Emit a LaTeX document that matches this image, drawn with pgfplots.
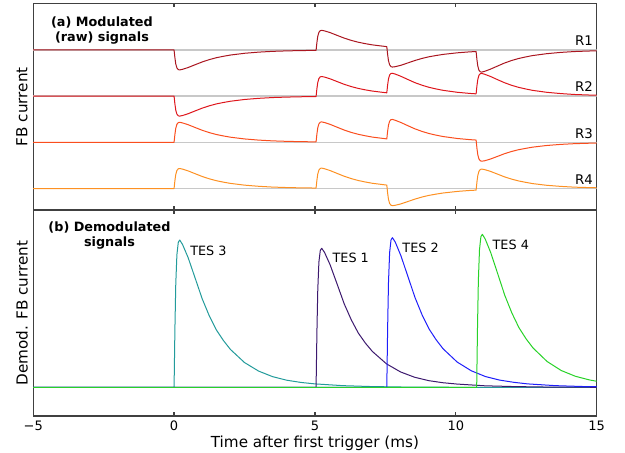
\documentclass[border=0pt]{standalone}
\usepackage{fontspec}
\setmainfont{DejaVu Sans}
\usepackage{pgfplots}
\pgfplotsset{compat=1.18}
\definecolor{cR1}{RGB}{170,22,32}
\definecolor{cR2}{RGB}{222,22,28}
\definecolor{cR3}{RGB}{250,78,30}
\definecolor{cR4}{RGB}{253,145,35}
\definecolor{cT3}{RGB}{35,155,155}
\definecolor{cT1}{RGB}{60,25,110}
\definecolor{cT2}{RGB}{30,30,250}
\definecolor{cT4}{RGB}{40,210,40}
\definecolor{basegray}{RGB}{200,200,200}
\definecolor{axgray}{RGB}{64,64,64}
\pgfplotsset{
  myax/.style={scale only axis, width=563.5bp, xmin=-5, xmax=15,
    xtick={-5,0,5,10,15}, ytick=\empty,
    axis line style={draw=axgray, line width=1.2bp},
    major tick style={draw=axgray, line width=1.2bp},
    major tick length=4bp,
    tick label style={font=\fontsize{13bp}{16bp}\selectfont},
    ylabel style={at={(axis description cs:-0.0199,0.5)}, anchor=center, font=\fontsize{15.2bp}{18bp}\selectfont},
  },
  tr/.style={no markers, line width=1.0bp, line join=round},
}
\begin{document}
\begin{tikzpicture}
\path[use as bounding box] (0,0) rectangle (625bp,453bp);
\begin{axis}[myax, at={(33.2bp,243bp)}, anchor=south west, height=206.7bp,
  ymin=-0.465, ymax=4.009, xticklabels={}, ylabel={FB current}]
\addplot[basegray, line width=1.3bp] coordinates {(-5,3) (15,3)};
\addplot[basegray, line width=1.3bp] coordinates {(-5,2) (15,2)};
\addplot[basegray, line width=1.3bp] coordinates {(-5,1) (15,1)};
\addplot[basegray, line width=1.3bp] coordinates {(-5,0) (15,0)};
\addplot[tr, cR1] coordinates {(-5,3) (0,3) (0.03,2.827) (0.06,2.697) (0.10,2.610) (0.15,2.573) (0.20,2.567) (0.30,2.580) (0.50,2.619) (0.75,2.680) (1.00,2.740) (1.25,2.790) (1.50,2.831) (1.75,2.862) (2.00,2.889) (2.50,2.927) (3.00,2.952) (3.50,2.969) (4.00,2.979) (4.50,2.986) (5.04,2.990) (5.07,3.164) (5.10,3.294) (5.14,3.381) (5.19,3.418) (5.24,3.424) (5.34,3.412) (5.54,3.374) (5.79,3.314) (6.04,3.255) (6.29,3.206) (6.54,3.166) (6.79,3.135) (7.04,3.109) (7.29,3.090) (7.55,3.071) (7.58,2.898) (7.61,2.766) (7.65,2.677) (7.70,2.638) (7.75,2.629) (7.85,2.637) (8.05,2.667) (8.30,2.719) (8.55,2.771) (8.80,2.816) (9.05,2.852) (9.30,2.879) (9.55,2.903) (9.80,2.920) (10.05,2.937) (10.30,2.949) (10.50,2.958) (10.72,2.965) (10.75,2.785) (10.78,2.651) (10.82,2.561) (10.87,2.525) (10.92,2.520) (11.02,2.536) (11.22,2.581) (11.47,2.648) (11.72,2.714) (11.97,2.769) (12.22,2.813) (12.47,2.847) (12.72,2.877) (13.22,2.918) (13.72,2.946) (14.22,2.965) (14.72,2.976) (15,2.980)};
\addplot[tr, cR2] coordinates {(-5,2) (0,2) (0.03,1.827) (0.06,1.697) (0.10,1.610) (0.15,1.573) (0.20,1.567) (0.30,1.580) (0.50,1.619) (0.75,1.680) (1.00,1.740) (1.25,1.790) (1.50,1.831) (1.75,1.862) (2.00,1.889) (2.50,1.927) (3.00,1.952) (3.50,1.969) (4.00,1.979) (4.50,1.986) (5.04,1.990) (5.07,2.164) (5.10,2.294) (5.14,2.381) (5.19,2.418) (5.24,2.424) (5.34,2.412) (5.54,2.374) (5.79,2.314) (6.04,2.255) (6.29,2.206) (6.54,2.166) (6.79,2.135) (7.04,2.109) (7.29,2.090) (7.55,2.071) (7.58,2.244) (7.61,2.372) (7.65,2.457) (7.70,2.492) (7.75,2.495) (7.85,2.477) (8.05,2.429) (8.30,2.359) (8.55,2.291) (8.80,2.236) (9.05,2.190) (9.30,2.155) (9.55,2.125) (9.80,2.104) (10.05,2.083) (10.30,2.069) (10.50,2.058) (10.72,2.049) (10.75,2.227) (10.78,2.361) (10.82,2.451) (10.87,2.487) (10.92,2.491) (11.02,2.474) (11.22,2.428) (11.47,2.359) (11.72,2.292) (11.97,2.236) (12.22,2.191) (12.47,2.156) (12.72,2.125) (13.22,2.083) (13.72,2.055) (14.22,2.035) (14.72,2.024) (15,2.020)};
\addplot[tr, cR3] coordinates {(-5,1) (0,1) (0.03,1.173) (0.06,1.303) (0.10,1.390) (0.15,1.427) (0.20,1.433) (0.30,1.420) (0.50,1.381) (0.75,1.320) (1.00,1.260) (1.25,1.210) (1.50,1.169) (1.75,1.138) (2.00,1.111) (2.50,1.073) (3.00,1.048) (3.50,1.031) (4.00,1.021) (4.50,1.014) (5.04,1.010) (5.07,1.183) (5.10,1.313) (5.14,1.399) (5.19,1.436) (5.24,1.442) (5.34,1.428) (5.54,1.388) (5.79,1.326) (6.04,1.265) (6.29,1.214) (6.54,1.173) (6.79,1.141) (7.04,1.113) (7.29,1.094) (7.55,1.074) (7.58,1.244) (7.61,1.372) (7.65,1.457) (7.70,1.492) (7.75,1.495) (7.85,1.477) (8.05,1.429) (8.30,1.359) (8.55,1.291) (8.80,1.236) (9.05,1.190) (9.30,1.155) (9.55,1.125) (9.80,1.104) (10.05,1.083) (10.30,1.069) (10.50,1.058) (10.72,1.049) (10.75,0.867) (10.78,0.731) (10.82,0.639) (10.87,0.599) (10.92,0.591) (11.02,0.600) (11.22,0.636) (11.47,0.693) (11.72,0.752) (11.97,0.800) (12.22,0.839) (12.47,0.868) (12.72,0.895) (13.22,0.931) (13.72,0.955) (14.22,0.971) (14.72,0.980) (15,0.984)};
\addplot[tr, cR4] coordinates {(-5,0) (0,0) (0.03,0.173) (0.06,0.303) (0.10,0.390) (0.15,0.427) (0.20,0.433) (0.30,0.420) (0.50,0.381) (0.75,0.320) (1.00,0.260) (1.25,0.210) (1.50,0.169) (1.75,0.138) (2.00,0.111) (2.50,0.073) (3.00,0.048) (3.50,0.031) (4.00,0.021) (4.50,0.014) (5.04,0.010) (5.07,0.183) (5.10,0.313) (5.14,0.399) (5.19,0.436) (5.24,0.442) (5.34,0.428) (5.54,0.388) (5.79,0.326) (6.04,0.265) (6.29,0.214) (6.54,0.173) (6.79,0.141) (7.04,0.113) (7.29,0.094) (7.55,0.074) (7.58,-0.102) (7.61,-0.234) (7.65,-0.323) (7.70,-0.362) (7.75,-0.371) (7.85,-0.363) (8.05,-0.333) (8.30,-0.281) (8.55,-0.229) (8.80,-0.184) (9.05,-0.148) (9.30,-0.121) (9.55,-0.097) (9.80,-0.080) (10.05,-0.063) (10.30,-0.051) (10.50,-0.042) (10.72,-0.035) (10.75,0.145) (10.78,0.281) (10.82,0.373) (10.87,0.413) (10.92,0.420) (11.02,0.410) (11.22,0.373) (11.47,0.314) (11.72,0.254) (11.97,0.205) (12.22,0.165) (12.47,0.135) (12.72,0.107) (13.22,0.070) (13.72,0.046) (14.22,0.029) (14.72,0.020) (15,0.016)};
\node[align=center, font=\bfseries\fontsize{12.8bp}{15bp}\selectfont] at (rel axis cs:0.122,0.866) {(a) Modulated\\(raw) signals};
\node[anchor=base east, inner sep=0pt, font=\fontsize{13.3bp}{16bp}\selectfont] at (axis cs:14.87,3.093) {R1};
\node[anchor=base east, inner sep=0pt, font=\fontsize{13.3bp}{16bp}\selectfont] at (axis cs:14.87,2.093) {R2};
\node[anchor=base east, inner sep=0pt, font=\fontsize{13.3bp}{16bp}\selectfont] at (axis cs:14.87,1.093) {R3};
\node[anchor=base east, inner sep=0pt, font=\fontsize{13.3bp}{16bp}\selectfont] at (axis cs:14.87,0.093) {R4};
\end{axis}
\begin{axis}[myax, at={(33.2bp,37bp)}, anchor=south west, height=206bp,
  ymin=-0.195, ymax=1.204, xticklabels={−5,0,5,10,15},
  xticklabel style={anchor=base, yshift=-14.7bp, inner sep=0pt},
  ylabel={Demod. FB current},
  xlabel={Time after first trigger (ms)},
  xlabel style={at={(axis description cs:0.5,0)}, anchor=base, yshift=-31.3bp, font=\fontsize{15.2bp}{18bp}\selectfont}]
\addplot[tr, cT3] coordinates {(-5,0) (0,0) (0.03,0.40) (0.06,0.70) (0.10,0.90) (0.15,0.985) (0.20,1.0) (0.30,0.97) (0.50,0.88) (0.75,0.74) (1.00,0.60) (1.25,0.485) (1.50,0.39) (1.75,0.318) (2.00,0.257) (2.50,0.168) (3.00,0.11) (3.50,0.072) (4.00,0.048) (4.50,0.033) (5.00,0.023) (6.00,0.011) (7.00,0.005) (8.00,0.002) (9.00,0.001) (10.00,0) (15,0)};
\addplot[tr, cT1] coordinates {(-5,0) (5.04,0) (5.07,0.378) (5.10,0.661) (5.14,0.850) (5.19,0.930) (5.24,0.944) (5.34,0.916) (5.54,0.831) (5.79,0.699) (6.04,0.566) (6.29,0.458) (6.54,0.368) (6.79,0.300) (7.04,0.243) (7.54,0.159) (8.04,0.104) (8.54,0.068) (9.04,0.045) (9.54,0.031) (10.04,0.022) (11.04,0.010) (12.04,0.005) (13.04,0.002) (14.04,0.001) (15,0)};
\addplot[tr, cT2] coordinates {(-5,0) (7.55,0) (7.58,0.406) (7.61,0.711) (7.65,0.914) (7.70,1.001) (7.75,1.016) (7.85,0.986) (8.05,0.894) (8.30,0.752) (8.55,0.610) (8.80,0.493) (9.05,0.396) (9.30,0.323) (9.55,0.261) (10.05,0.171) (10.55,0.112) (11.05,0.073) (11.55,0.049) (12.05,0.034) (12.55,0.023) (13.55,0.011) (14.55,0.005) (15,0.004)};
\addplot[tr, cT4] coordinates {(-5,0) (10.74,0) (10.77,0.416) (10.80,0.727) (10.84,0.935) (10.89,1.023) (10.94,1.039) (11.04,1.008) (11.24,0.914) (11.49,0.769) (11.74,0.623) (11.99,0.504) (12.24,0.405) (12.49,0.330) (12.74,0.267) (13.24,0.175) (13.74,0.114) (14.24,0.075) (14.74,0.050) (15,0.041)};
\node[align=center, font=\bfseries\fontsize{12.8bp}{15bp}\selectfont] at (rel axis cs:0.1354,0.874) {(b) Demodulated\\signals};
\node[anchor=base west, inner sep=0pt, font=\fontsize{12.8bp}{16bp}\selectfont] at (axis cs:0.57,0.898) {TES 3};
\node[anchor=base west, inner sep=0pt, font=\fontsize{12.8bp}{16bp}\selectfont] at (axis cs:5.62,0.846) {TES 1};
\node[anchor=base west, inner sep=0pt, font=\fontsize{12.8bp}{16bp}\selectfont] at (axis cs:8.10,0.917) {TES 2};
\node[anchor=base west, inner sep=0pt, font=\fontsize{12.8bp}{16bp}\selectfont] at (axis cs:11.30,0.937) {TES 4};
\end{axis}
\end{tikzpicture}
\end{document}
